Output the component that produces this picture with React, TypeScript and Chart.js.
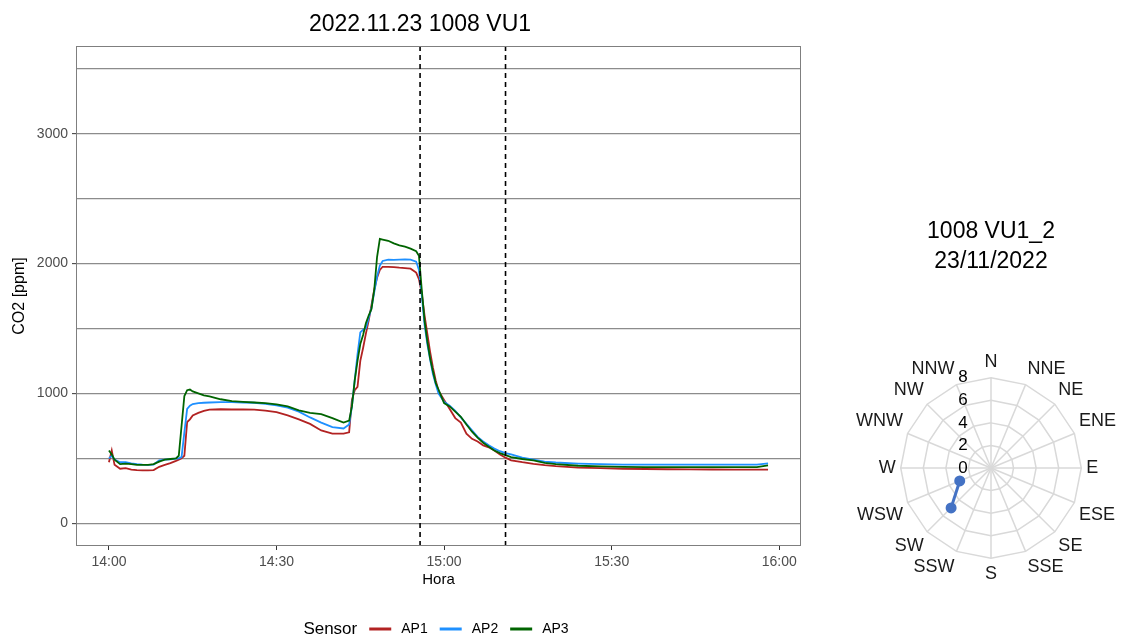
import React, { useEffect, useRef } from 'react';
import { Chart, registerables } from 'chart.js';

Chart.register(...registerables);

const FONT = '"Liberation Sans", Arial, Helvetica, sans-serif';

// ---------- Left chart data (minutes after 14:00) ----------
const minutes = [
  0, 0.5, 1, 2, 3, 4, 5, 6, 7, 8, 9, 10, 11, 12, 12.5, 13, 13.5, 14, 14.5, 15,
  16, 17, 18, 20, 22, 24, 26, 28, 30, 32, 34, 36, 38, 40, 42, 43, 43.5, 44, 44.5, 45,
  45.5, 46, 46.5, 47, 47.5, 48, 48.5, 49, 50, 51, 52, 53, 54, 55, 55.5, 56, 56.5, 57, 57.5, 58,
  58.5, 59, 60, 61, 62, 63, 64, 65, 66, 67, 68, 69, 70, 71, 72, 74, 76, 78, 80, 84,
  88, 92, 96, 100, 104, 108, 112, 116, 118,
];

const ap1 = [
  470, 560, 450, 420, 425, 413, 410, 408, 408, 410, 435, 450, 463, 480, 490, 500, 520, 780, 800, 830,
  850, 865, 875, 878, 876, 876, 875, 868, 855, 830, 800, 765, 715, 690, 690, 700, 950, 1025, 1050, 1250,
  1350, 1460, 1560, 1680, 1800, 1890, 1950, 1975, 1975, 1972, 1968, 1965, 1960, 1930, 1880, 1770, 1600, 1460, 1320, 1200,
  1100, 1020, 950, 880, 810, 775, 690, 650, 630, 600, 585, 560, 530, 505, 485, 470, 458, 448, 440, 428,
  424, 420, 418, 416, 415, 414, 413, 413, 413,
];

const ap2 = [
  500, 520, 490, 470, 470, 462, 455, 452, 450, 452, 485, 490, 493, 498, 500, 510, 700, 880, 905, 918,
  925, 928, 930, 933, 933, 930, 928, 920, 908, 890, 860, 815, 775, 740, 730, 760, 900, 1100, 1300, 1470,
  1490, 1500, 1580, 1660, 1780, 1900, 1985, 2020, 2030, 2028, 2030, 2032, 2030, 2015, 1950, 1760, 1530, 1380, 1260, 1150,
  1070, 1000, 935, 905, 865, 815, 765, 715, 665, 630, 600, 575, 555, 540, 530, 505, 490, 475, 468, 460,
  455, 452, 451, 451, 451, 451, 451, 452, 462,
];

const ap3 = [
  560, 530, 490, 455, 460, 455, 450, 450, 450, 455, 475, 490, 495, 500, 520, 750, 980, 1025, 1030, 1015,
  1000, 985, 978, 955, 940, 935, 930, 925, 915, 900, 870, 850, 840, 810, 775, 790, 900, 1100, 1250, 1380,
  1450, 1540, 1600, 1650, 1800, 2050, 2190, 2185, 2175, 2155, 2140, 2130, 2115, 2095, 2060, 1800, 1560, 1400, 1270, 1170,
  1080, 1030, 925, 900, 860, 820, 760, 705, 660, 620, 590, 560, 540, 525, 510, 495, 485, 465, 455, 443,
  438, 435, 433, 433, 433, 433, 433, 433, 446,
];

const sensors = ['AP1', 'AP2', 'AP3'];
const sensorColors = ['#B22222', '#1E90FF', '#006400'];
const xTickMinutes = [0, 30, 60, 90, 120];
const xTickLabels = ['14:00', '14:30', '15:00', '15:30', '16:00'];
const yGridValues = [0, 500, 1000, 1500, 2000, 2500, 3000, 3500];
const yTickLabels = [0, 1000, 2000, 3000];
const eventLines = [55.7, 71.0];
const chartTitle = '2022.11.23 1008 VU1';

// ---------- Right chart data ----------
const directions = ['N', 'NNE', 'NE', 'ENE', 'E', 'ESE', 'SE', 'SSE', 'S', 'SSW', 'SW', 'WSW', 'W', 'WNW', 'NW', 'NNW'];
const windValues: (number | null)[] = [null, null, null, null, null, null, null, null, null, null, 5, 3, null, null, null, null];
const windTicks = [0, 2, 4, 6, 8];
const windTitle = ['1008 VU1_2', '23/11/2022'];

function LeftChart() {
  const ref = useRef<HTMLCanvasElement>(null);
  useEffect(() => {
    const series = [ap1, ap2, ap3];
    const panelPlugin = {
      id: 'panelExtras',
      afterDatasetsDraw(chart: any) {
        const { ctx, chartArea, scales } = chart;
        ctx.save();
        ctx.strokeStyle = '#000';
        ctx.lineWidth = 1.6;
        ctx.setLineDash([5, 4]);
        eventLines.forEach((m) => {
          const x = scales.x.getPixelForValue(m);
          ctx.beginPath();
          ctx.moveTo(x, chartArea.top);
          ctx.lineTo(x, chartArea.bottom);
          ctx.stroke();
        });
        ctx.setLineDash([]);
        ctx.strokeStyle = '#7f7f7f';
        ctx.lineWidth = 1;
        ctx.strokeRect(chartArea.left + 0.5, chartArea.top + 0.5, chartArea.right - chartArea.left - 1, chartArea.bottom - chartArea.top - 1);
        ctx.restore();
      },
      afterDraw(chart: any) {
        const { ctx } = chart;
        ctx.save();
        // title
        ctx.textBaseline = 'middle';
        ctx.textAlign = 'center';
        ctx.fillStyle = '#000';
        ctx.font = `23px ${FONT}`;
        ctx.fillText(chartTitle, 420, 25);
        // legend
        ctx.textAlign = 'left';
        const y = 629;
        ctx.font = `17px ${FONT}`;
        const titleW = ctx.measureText('Sensor').width;
        ctx.font = `14px ${FONT}`;
        const labelWs = sensors.map((s) => ctx.measureText(s).width);
        const keyW = 22;
        let total = titleW;
        sensors.forEach((_, i) => {
          total += 12 + keyW + 10 + labelWs[i];
        });
        let x = 436 - total / 2;
        ctx.font = `17px ${FONT}`;
        ctx.fillText('Sensor', x, y);
        x += titleW;
        ctx.font = `14px ${FONT}`;
        sensors.forEach((s, i) => {
          x += 12;
          ctx.strokeStyle = sensorColors[i];
          ctx.lineWidth = 3;
          ctx.beginPath();
          ctx.moveTo(x, y);
          ctx.lineTo(x + keyW, y);
          ctx.stroke();
          x += keyW + 10;
          ctx.fillStyle = '#000';
          ctx.fillText(s, x, y);
          x += labelWs[i];
        });
        ctx.restore();
      },
    };

    const chart = new Chart(ref.current!, {
      type: 'line',
      data: {
        datasets: sensors.map((name, i) => ({
          label: name,
          data: minutes.map((m, j) => ({ x: m, y: series[i][j] })),
          borderColor: sensorColors[i],
          backgroundColor: sensorColors[i],
          borderWidth: 1.8,
          pointRadius: 0,
          fill: false,
          tension: 0,
          order: 3 - i,
        })),
      },
      options: {
        responsive: false,
        animation: false,
        layout: { padding: { left: 0, right: 39, top: 46, bottom: 43 } },
        plugins: {
          legend: { display: false },
          tooltip: { enabled: false },
          title: { display: false },
        },
        scales: {
          x: {
            type: 'linear',
            min: -5.9,
            max: 123.9,
            afterFit: (s: any) => {
              s.height = 50;
            },
            afterBuildTicks: (s: any) => {
              s.ticks = xTickMinutes.map((v) => ({ value: v }));
            },
            ticks: {
              autoSkip: false,
              maxRotation: 0,
              padding: 4,
              color: '#4d4d4d',
              font: { family: FONT, size: 14 },
              callback: (v: any) => xTickLabels[xTickMinutes.indexOf(Number(v))] ?? '',
            },
            grid: {
              display: true,
              drawOnChartArea: false,
              drawTicks: true,
              tickLength: 4,
              tickColor: '#333',
              tickWidth: 1,
            },
            border: { display: false },
            title: {
              display: true,
              text: 'Hora',
              color: '#000',
              font: { family: FONT, size: 15 },
              padding: { top: 0, bottom: 7 },
            },
          },
          y: {
            type: 'linear',
            min: -175,
            max: 3675,
            afterFit: (s: any) => {
              s.width = 76;
            },
            afterBuildTicks: (s: any) => {
              s.ticks = yGridValues.map((v) => ({ value: v }));
            },
            ticks: {
              autoSkip: false,
              padding: 4,
              color: '#4d4d4d',
              font: { family: FONT, size: 14 },
              callback: (v: any) => (yTickLabels.includes(Number(v)) ? String(v) : ''),
            },
            grid: {
              color: '#8c8c8c',
              lineWidth: 1.3,
              drawTicks: true,
              tickLength: 4,
              tickWidth: 1,
              tickColor: (c: any) => (c.tick && yTickLabels.includes(c.tick.value) ? '#333' : 'rgba(0,0,0,0)'),
            },
            border: { display: false },
            title: {
              display: true,
              text: 'CO2 [ppm]',
              color: '#000',
              font: { family: FONT, size: 16 },
              padding: { top: 10, bottom: 0 },
            },
          },
        },
      },
      plugins: [panelPlugin],
    } as any);
    return () => chart.destroy();
  }, []);
  return <canvas ref={ref} width={840} height={639} style={{ position: 'absolute', left: 0, top: 0, width: 840, height: 639 }} />;
}

function RightChart() {
  const ref = useRef<HTMLCanvasElement>(null);
  useEffect(() => {
    const tickPlugin = {
      id: 'radarTicks',
      afterDraw(chart: any) {
        const { ctx } = chart;
        const r = chart.scales.r;
        ctx.save();
        ctx.fillStyle = '#000';
        ctx.textAlign = 'center';
        ctx.textBaseline = 'middle';
        // title (two lines)
        ctx.font = `23px ${FONT}`;
        windTitle.forEach((line, i) => {
          ctx.fillText(line, 991 - 830, 32 + i * 30);
        });
        // radial tick labels
        ctx.font = `17px ${FONT}`;
        windTicks.forEach((t) => {
          const d = r.getDistanceFromCenterForValue(t);
          ctx.fillText(String(t), r.xCenter - 28, r.yCenter - d);
        });
        ctx.restore();
      },
    };
    const chart = new Chart(ref.current!, {
      type: 'radar',
      data: {
        labels: directions,
        datasets: [
          {
            data: windValues,
            borderColor: '#4472C4',
            backgroundColor: '#4472C4',
            pointBackgroundColor: '#4472C4',
            pointBorderColor: '#4472C4',
            pointRadius: 4,
            borderWidth: 3,
            fill: false,
            spanGaps: false,
          },
        ],
      },
      options: {
        responsive: false,
        animation: false,
        layout: { padding: { left: 21, right: 0, top: 139, bottom: 40 } },
        plugins: {
          legend: { display: false },
          tooltip: { enabled: false },
          title: { display: false },
        },
        scales: {
          r: {
            min: 0,
            max: 8,
            ticks: { stepSize: 2, display: false },
            grid: { color: '#d9d9d9', lineWidth: 1.5 },
            angleLines: { color: '#d9d9d9', lineWidth: 1.5 },
            pointLabels: { color: '#1a1a1a', font: { family: FONT, size: 18 }, padding: 5 },
          },
        },
      },
      plugins: [tickPlugin],
    } as any);
    return () => chart.destroy();
  }, []);
  return <canvas ref={ref} width={291} height={439} style={{ position: 'absolute', left: 830, top: 200, width: 291, height: 439 }} />;
}

export default function App() {
  return (
    <div style={{ position: 'fixed', left: 0, top: 0, width: 1121, height: 639, background: '#fff', overflow: 'hidden' }}>
      <LeftChart />
      <RightChart />
    </div>
  );
}
